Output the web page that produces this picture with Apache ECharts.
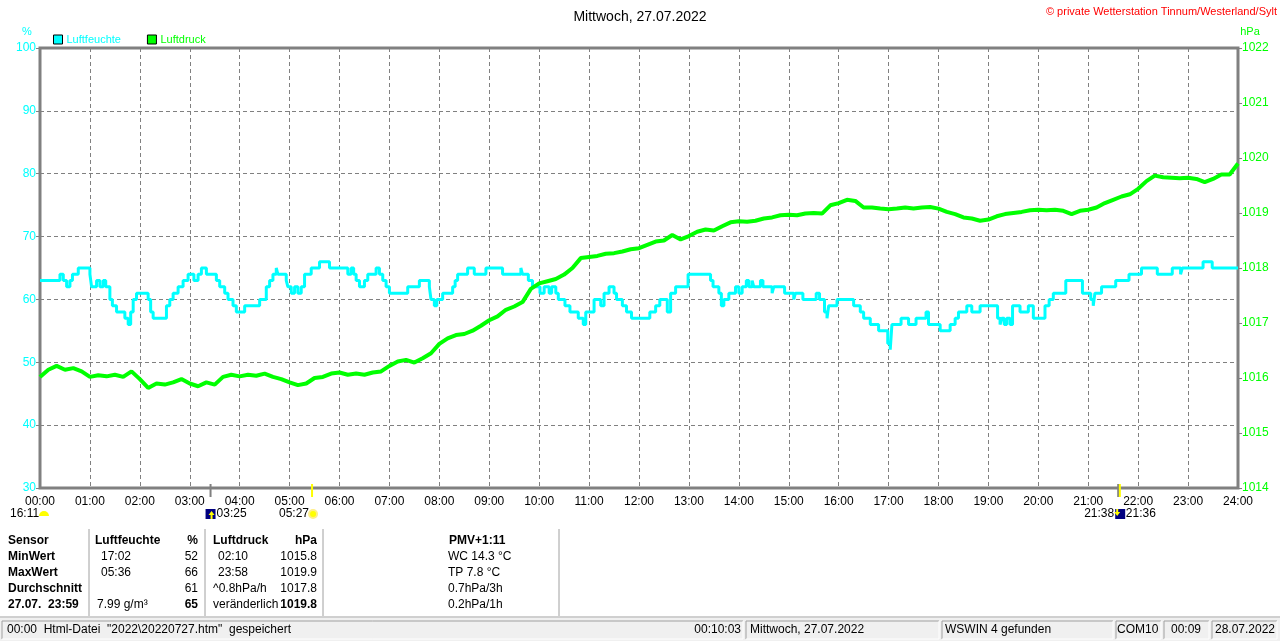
<!DOCTYPE html>
<html>
<head>
<meta charset="utf-8">
<title>Mittwoch, 27.07.2022</title>
<script src="https://cdn.jsdelivr.net/npm/echarts@6/dist/echarts.min.js"></script>
<style>
html, body { margin: 0; padding: 0; background: #fff; }
#chart { width: 1280px; height: 641px; }
</style>
</head>
<body>
<div id="chart"></div>
<script>
// Luftfeuchte: Zeitpunkte der Wertänderung (%)
var humTimes = ["00:00","00:24","00:28","00:32","00:36","00:39","00:46","01:00","01:02","01:08",
	"01:12","01:16","01:19","01:24","01:27","01:32","01:42","01:46","01:49","01:52",
	"01:56","02:10","02:13","02:16","02:32","02:36","02:40","02:46","02:52","02:58",
	"03:05","03:10","03:14","03:20","03:32","03:36","03:42","03:46","03:52","03:56",
	"04:06","04:24","04:32","04:36","04:40","04:44","04:46","04:56","04:58","05:02",
	"05:06","05:10","05:14","05:18","05:26","05:36","05:48","06:10","06:14","06:17",
	"06:20","06:24","06:30","06:34","06:44","06:48","06:52","06:56","07:00","07:22",
	"07:36","07:48","07:50","07:54","07:57","08:04","08:16","08:19","08:22","08:34",
	"08:42","08:56","09:16","09:38","09:40","09:47","09:52","10:01","10:06","10:12",
	"10:15","10:20","10:23","10:31","10:37","10:47","10:53","10:56","11:06","11:14",
	"11:18","11:24","11:30","11:33","11:40","11:45","11:51","12:13","12:20","12:25",
	"12:34","12:38","12:44","12:59","13:26","13:29","13:36","13:39","13:42","13:48",
	"13:56","14:00","14:04","14:09","14:12","14:16","14:18","14:26","14:29","14:40",
	"14:42","14:55","15:06","15:08","15:17","15:33","15:37","15:43","15:46","15:48",
	"15:58","16:18","16:26","16:30","16:38","16:48","16:59","17:02","17:04","17:15",
	"17:24","17:33","17:45","17:48","18:02","18:14","18:20","18:24","18:34","18:40",
	"18:50","19:11","19:14","19:16","19:19","19:22","19:26","19:29","19:38","19:48",
	"19:54","20:08","20:13","20:18","20:33","20:53","21:03","21:06","21:08","21:16",
	"21:33","21:49","22:04","22:23","22:41","22:51","22:53","23:18","23:29","24:00"];
var humValues = [63,64,63,62,63,64,65,64,62,63,
	62,63,62,60,59,58,57,56,58,60,
	61,60,58,57,59,60,61,62,63,64,
	63,64,65,64,63,62,61,60,59,58,
	59,60,62,63,64,65,64,63,62,61,
	62,61,62,64,65,66,65,64,65,64,
	63,62,63,64,65,64,63,62,61,62,
	63,62,60,59,60,61,62,63,64,65,
	64,65,64,65,64,63,62,61,62,61,
	62,61,60,59,58,57,56,58,60,59,
	61,62,61,60,59,58,57,58,59,60,
	58,61,62,64,63,62,61,59,60,61,
	62,61,62,63,62,63,62,63,62,61,
	62,61,60,61,60,61,60,58,57,59,
	60,59,58,57,56,55,53,52,56,57,
	56,57,58,56,55,56,57,58,59,58,
	59,57,56,57,56,57,56,59,58,59,
	57,59,60,61,63,61,60,59,61,62,
	63,64,65,64,65,64,65,66,65,65];

// Luftdruck alle 10 Minuten, 00:00 bis 24:00 (hPa)
var presStep = 10;
var presValues = [
	1016.02,1016.15,1016.22,1016.15,1016.18,1016.12,
	1016.02,1016.05,1016.03,1016.06,1016.02,1016.12,
	1015.98,1015.82,1015.90,1015.88,1015.92,1015.98,
	1015.90,1015.85,1015.92,1015.88,1016.02,1016.06,
	1016.03,1016.06,1016.04,1016.08,1016.02,1015.98,
	1015.92,1015.87,1015.90,1016.00,1016.02,1016.08,
	1016.10,1016.06,1016.08,1016.06,1016.10,1016.12,
	1016.22,1016.30,1016.33,1016.28,1016.36,1016.45,
	1016.62,1016.72,1016.78,1016.80,1016.86,1016.95,
	1017.05,1017.12,1017.24,1017.30,1017.38,1017.62,
	1017.72,1017.76,1017.80,1017.88,1018.00,1018.18,
	1018.20,1018.22,1018.26,1018.27,1018.30,1018.34,
	1018.36,1018.42,1018.48,1018.50,1018.60,1018.52,
	1018.58,1018.66,1018.70,1018.68,1018.76,1018.83,
	1018.85,1018.84,1018.86,1018.90,1018.92,1018.96,
	1018.97,1018.96,1018.99,1019.00,1018.99,1019.14,
	1019.18,1019.24,1019.22,1019.10,1019.10,1019.08,
	1019.07,1019.08,1019.10,1019.08,1019.10,1019.11,
	1019.08,1019.02,1018.98,1018.92,1018.90,1018.86,
	1018.88,1018.94,1018.98,1019.00,1019.02,1019.05,
	1019.06,1019.05,1019.06,1019.04,1018.98,1019.04,
	1019.06,1019.10,1019.18,1019.24,1019.30,1019.34,
	1019.44,1019.58,1019.68,1019.65,1019.64,1019.63,
	1019.64,1019.62,1019.56,1019.62,1019.70,1019.70,
	1019.90];

// Sonnen-/Mondzeiten an der Zeitachse
var markTimes = ["03:25", "05:27", "21:36", "21:38"];

// Tabelle unter dem Diagramm
var tabSensor = ["Sensor", "MinWert", "MaxWert", "Durchschnitt", "27.07.  23:59"];
var tabHumTime = ["Luftfeuchte", "17:02", "05:36", "", "7.99 g/m³"];
var tabHumVal = ["%", "52", "66", "61", "65"];
var tabPresTime = ["Luftdruck", "02:10", "23:58", "^0.8hPa/h", "veränderlich"];
var tabPresVal = ["hPa", "1015.8", "1019.9", "1017.8", "1019.8"];
var tabInfo = ["PMV+1:11", "WC 14.3 °C", "TP 7.8 °C", "0.7hPa/3h", "0.2hPa/1h"];

// Statuszeile
var statusTexts = ["00:00  Html-Datei  \"2022\\20220727.htm\"  gespeichert", "00:10:03",
	"Mittwoch, 27.07.2022", "WSWIN 4 gefunden", "COM10", "00:09", "28.07.2022"];

var FONT = "'Liberation Sans', Arial, sans-serif";

function toMin(s) {
	var p = s.split(":");
	return parseInt(p[0], 10) * 60 + parseInt(p[1], 10);
}
function pad(n) { return (n < 10 ? "0" : "") + n; }

var humData = humTimes.map(function (t, i) { return [toMin(t), humValues[i]]; });
var presData = presValues.map(function (v, i) { return [i * presStep, v]; });

var chart = echarts.init(document.getElementById('chart'), null, { renderer: 'canvas' });

var gridColor = '#808080';
var option = {
	backgroundColor: '#ffffff',
	animation: false,
	textStyle: { fontFamily: FONT },
	title: {
		text: 'Mittwoch, 27.07.2022',
		left: 'center',
		top: 5,
		textStyle: { color: '#000', fontSize: 14, fontWeight: 'normal', fontFamily: FONT }
	},
	legend: {
		left: 48,
		top: 29,
		itemWidth: 9,
		itemHeight: 9,
		itemGap: 26,
		icon: 'rect',
		textStyle: { fontSize: 11, fontFamily: FONT, padding: [0, 0, 0, -1] },
		data: [
			{ name: 'Luftfeuchte', itemStyle: { borderColor: '#000', borderWidth: 1 }, textStyle: { color: '#00ffff' } },
			{ name: 'Luftdruck', itemStyle: { borderColor: '#000', borderWidth: 1 }, textStyle: { color: '#00ff00' } }
		]
	},
	grid: {
		left: 40,
		right: 42,
		top: 48,
		bottom: 153,
		show: true,
		borderColor: gridColor,
		borderWidth: 3,
		backgroundColor: '#fff'
	},
	xAxis: {
		type: 'value',
		min: 0,
		max: 1440,
		interval: 60,
		axisLine: { show: false },
		axisTick: { show: false },
		axisLabel: {
			color: '#000',
			fontSize: 12,
			margin: 8,
			fontFamily: FONT,
			formatter: function (v) { return pad(v / 60) + ':00'; }
		},
		splitLine: { show: true, lineStyle: { color: gridColor, type: [4, 3], width: 1 } }
	},
	yAxis: [{
		type: 'value',
		min: 30,
		max: 100,
		interval: 10,
		position: 'left',
		axisLine: { show: false },
		axisTick: { show: true, length: 4, lineStyle: { color: gridColor, width: 1 } },
		axisLabel: { color: '#00ffff', fontSize: 12, margin: 4, fontFamily: FONT },
		splitLine: { show: true, lineStyle: { color: gridColor, type: [4, 3], width: 1 } }
	}, {
		type: 'value',
		min: 1014,
		max: 1022,
		interval: 1,
		position: 'right',
		axisLine: { show: false },
		axisTick: { show: true, length: 4, lineStyle: { color: gridColor, width: 1 } },
		axisLabel: {
			color: '#00ff00', fontSize: 12, margin: 4, fontFamily: FONT,
			formatter: function (v) { return String(v); }
		},
		splitLine: { show: false }
	}],
	series: [{
		name: 'Luftfeuchte',
		type: 'line',
		step: 'end',
		showSymbol: false,
		yAxisIndex: 0,
		data: humData,
		itemStyle: { color: '#00ffff' },
		lineStyle: { color: '#00ffff', width: 3 }
	}, {
		name: 'Luftdruck',
		type: 'line',
		showSymbol: false,
		yAxisIndex: 1,
		data: presData,
		itemStyle: { color: '#00ff00' },
		lineStyle: { color: '#00ff00', width: 4 }
	}]
};
chart.setOption(option);

// Zusatzelemente: Einheiten, Markierungen, Tabelle, Statuszeile
function txt(x, y, s, opt) {
	opt = opt || {};
	return {
		type: 'text', x: x, y: y, silent: true,
		style: {
			text: s, fill: opt.color || '#000',
			font: (opt.bold ? 'bold ' : '') + (opt.size || 12) + 'px ' + FONT,
			textAlign: opt.align || 'left', textVerticalAlign: 'middle'
		}
	};
}

var g = [];
g.push(txt(1277, 12, '© private Wetterstation Tinnum/Westerland/Sylt', { color: '#ff0000', size: 11, align: 'right' }));
g.push(txt(27, 32, '%', { color: '#00ffff', size: 11, align: 'center' }));
g.push(txt(1250, 32, 'hPa', { color: '#00ff00', size: 11, align: 'center' }));

var xs = markTimes.map(function (t) { return chart.convertToPixel({ xAxisIndex: 0 }, toMin(t)); });
var axisY = chart.convertToPixel({ yAxisIndex: 0 }, 30);
var markCol = ['#808080', '#ffff00', '#808080', '#ffff00'];
xs.forEach(function (x, i) {
	g.push({ type: 'line', silent: true, shape: { x1: x, y1: axisY - 4, x2: x, y2: axisY + 9 },
		style: { stroke: markCol[i], lineWidth: 2 } });
});

// Symbole unter der Achse
g.push(txt(10, 514, '16:11'));
g.push({ type: 'sector', silent: true, shape: { cx: 44, cy: 516, r0: 0, r: 5, startAngle: Math.PI, endAngle: Math.PI * 2 }, style: { fill: '#ffff00' } });
g.push({ type: 'rect', silent: true, shape: { x: xs[0] - 5, y: 509, width: 10, height: 10 }, style: { fill: '#000080' } });
g.push({ type: 'polygon', silent: true, shape: { points: [[xs[0] + 1, 511], [xs[0] + 4, 515], [xs[0] + 2, 515], [xs[0] + 2, 519], [xs[0], 519], [xs[0], 515], [xs[0] - 2, 515]] }, style: { fill: '#ffff00' } });
g.push(txt(xs[0] + 6, 514, markTimes[0]));
g.push(txt(xs[1] - 3, 514, markTimes[1], { align: 'right' }));
g.push({ type: 'circle', silent: true, shape: { cx: xs[1] + 1, cy: 514, r: 4 }, style: { fill: '#ffff00', stroke: '#ffee88', lineWidth: 2 } });
g.push({ type: 'rect', silent: true, shape: { x: xs[2] - 3, y: 509, width: 10, height: 10 }, style: { fill: '#000080' } });
g.push({ type: 'polygon', silent: true, shape: { points: [[xs[2] - 2, 509], [xs[2], 509], [xs[2], 512], [xs[2] + 2, 512], [xs[2] - 1, 516], [xs[2] - 4, 512], [xs[2] - 2, 512]] }, style: { fill: '#ffff00' } });
g.push(txt(xs[2] - 4, 514, markTimes[3], { align: 'right' }));
g.push(txt(xs[3] + 6, 514, markTimes[2]));

// Tabelle
var rowY = [541, 557, 573, 589, 605];
[89, 205, 323, 559].forEach(function (x) {
	g.push({ type: 'line', silent: true, shape: { x1: x, y1: 529, x2: x, y2: 616 }, style: { stroke: '#a0a0a0', lineWidth: 1 } });
});
rowY.forEach(function (y, r) {
	g.push(txt(8, y, tabSensor[r], { bold: true }));
	g.push(txt(r === 0 ? 95 : (r === 4 ? 97 : 101), y, tabHumTime[r], { bold: r === 0 }));
	g.push(txt(198, y, tabHumVal[r], { bold: r === 0 || r === 4, align: 'right' }));
	g.push(txt(r === 1 || r === 2 ? 218 : 213, y, tabPresTime[r], { bold: r === 0 }));
	g.push(txt(317, y, tabPresVal[r], { bold: r === 0 || r === 4, align: 'right' }));
	g.push(txt(r === 0 ? 449 : 448, y, tabInfo[r], { bold: r === 0 }));
});

// Statuszeile
g.push({ type: 'line', silent: true, shape: { x1: 0, y1: 617, x2: 1280, y2: 617 }, style: { stroke: '#a0a0a0', lineWidth: 1 } });
g.push({ type: 'rect', silent: true, shape: { x: 0, y: 618, width: 1280, height: 23 }, style: { fill: '#f0f0f0' } });
var panels = [[2, 743], [746, 939], [942, 1113], [1116, 1161], [1164, 1209], [1212, 1277]];
panels.forEach(function (p) {
	g.push({ type: 'polyline', silent: true, shape: { points: [[p[0], 639], [p[0], 621], [p[1], 621]] }, style: { stroke: '#a0a0a0', lineWidth: 1, fill: null } });
	g.push({ type: 'polyline', silent: true, shape: { points: [[p[1], 621], [p[1], 639], [p[0], 639]] }, style: { stroke: '#ffffff', lineWidth: 1, fill: null } });
});
g.push(txt(7, 630, statusTexts[0]));
g.push(txt(741, 630, statusTexts[1], { align: 'right' }));
g.push(txt(750, 630, statusTexts[2]));
g.push(txt(945, 630, statusTexts[3]));
g.push(txt(1117, 630, statusTexts[4]));
g.push(txt(1186, 630, statusTexts[5], { align: 'center' }));
g.push(txt(1245, 630, statusTexts[6], { align: 'center' }));

chart.setOption({ graphic: { elements: g } });
</script>
</body>
</html>
